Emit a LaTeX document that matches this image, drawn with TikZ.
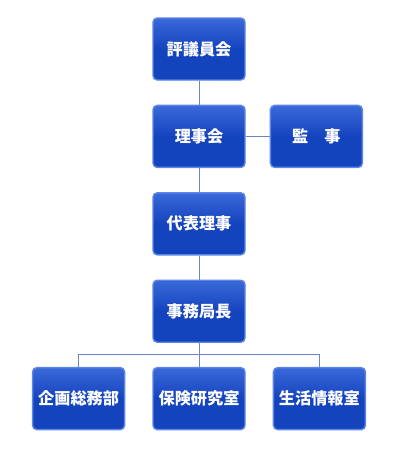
\documentclass[tikz,border=0pt]{standalone}
\usepackage{fontspec}
\newfontfamily\jpfont{Noto Sans CJK JP}
\usetikzlibrary{positioning,calc}
\definecolor{orgBlue}{HTML}{1443BE}
\definecolor{orgEdge}{HTML}{5C86E6}
\definecolor{orgTop}{HTML}{3A69DA}
\definecolor{orgLine}{HTML}{6A86C4}

\begin{document}
\begin{tikzpicture}[font=\jpfont\bfseries\fontsize{11.5}{13}\selectfont,node distance=0.6cm]
    \tikzset{unit/.style={draw=orgEdge,line width=1pt,top color=orgTop,bottom color=orgBlue,middle color=orgBlue,
        rounded corners=3pt,minimum width=2.3cm,minimum height=1.55cm,text=white,inner sep=2pt},
      link/.style={draw=orgLine,line width=0.7pt}}
    \useasboundingbox (0,0) rectangle (10,-11.25);
    \node[unit] (hyogi) at (4.975,-1.225) {評議員会};
    \node[unit,below=of hyogi] (rijikai) {理事会};
    \node[unit,right=of rijikai] (kanji) {監\hspace{1em}事};
    \node[unit,below=of rijikai] (daihyo) {代表理事};
    \node[unit,below=of daihyo] (jimu) {事務局長};
    \node[unit,below=of jimu] (hoken) {保険研究室};
    \node[unit,left=0.675cm of hoken] (kikaku) {企画総務部};
    \node[unit,right=0.675cm of hoken] (seikatsu) {生活情報室};
    % connectors
    \draw[link] (hyogi) -- (rijikai);
    \draw[link] (rijikai) -- (kanji);
    \draw[link] (rijikai) -- (daihyo);
    \draw[link] (daihyo) -- (jimu);
    \draw[link] (jimu) -- (hoken);
    \coordinate (split) at ($(jimu.south)!0.5!(hoken.north)$);
    \draw[link] (kikaku.north) |- (split) -| (seikatsu.north);
  \end{tikzpicture}
\end{document}
